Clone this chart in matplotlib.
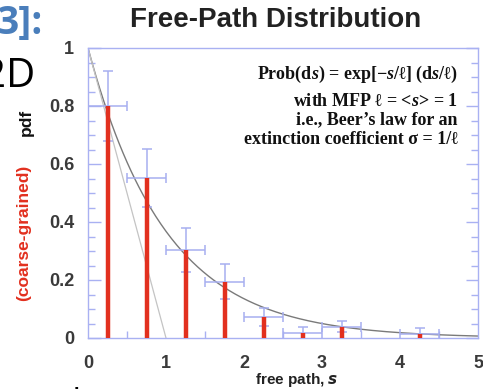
import numpy as np
import matplotlib
matplotlib.use("Agg")
import matplotlib.pyplot as plt
from matplotlib.ticker import MultipleLocator

# ---- data ----
bin_centers = [0.25, 0.75, 1.25, 1.75, 2.25, 2.75, 3.25, 4.25]
pdf_values = [0.80, 0.553, 0.303, 0.194, 0.073, 0.018, 0.039, 0.015]
pdf_errors = [0.12, 0.10, 0.075, 0.06, 0.03, 0.02, 0.02, 0.02]
bin_half_width = 0.25
mfp = 1.0

x_ticks = [0, 1, 2, 3, 4, 5]
x_tick_labels = ["0", "1", "2", "3", "4", "5"]
y_ticks = [0, 0.2, 0.4, 0.6, 0.8, 1.0]
y_tick_labels = ["0", "0.2", "0.4", "0.6", "0.8", "1"]

title = "Free-Path Distribution"
xlabel = "free path, $\\boldsymbol{s}$"

plt.rcParams["mathtext.fontset"] = "custom"
plt.rcParams["mathtext.it"] = "Liberation Serif:italic:bold"
plt.rcParams["mathtext.bf"] = "Liberation Sans:italic:bold"

W, H = 483, 389
fig = plt.figure(figsize=(W / 100, H / 100), dpi=100)
fig.patch.set_facecolor("white")

ax = fig.add_axes([88 / W, 1 - 338 / H, (478 - 88) / W, (338 - 48) / H])
spine_col = "#a9b1f2"
for sp in ["bottom", "left", "right", "top"]:
    ax.spines[sp].set_color(spine_col)
    ax.spines[sp].set_linewidth(1.0)

s = np.linspace(0, 5, 300)
ax.plot(s, np.exp(-s / mfp), color="#7a7a7a", lw=1.0, zorder=2)
ax.plot([0, mfp], [1, 0], color="#c4c4c4", lw=0.9, zorder=2)

ax.errorbar(bin_centers, pdf_values, xerr=bin_half_width, yerr=pdf_errors,
            fmt="none", ecolor="#a7aff0", elinewidth=1.1, capsize=3.5,
            capthick=1.1, zorder=3)
ax.vlines(bin_centers, 0, pdf_values, colors="#e2301f", lw=3.2, zorder=4)

ax.set_xlim(0, 5)
ax.set_ylim(0, 1)
ax.set_xticks(x_ticks)
ax.set_xticklabels(x_tick_labels)
ax.set_yticks(y_ticks)
ax.set_yticklabels(y_tick_labels)
ax.xaxis.set_minor_locator(MultipleLocator(0.5))
ax.yaxis.set_minor_locator(MultipleLocator(0.05))
ax.tick_params(axis="both", which="both", direction="in", color=spine_col,
               labelcolor="#3a3a3a", labelsize=13)
ax.tick_params(axis="x", which="major", length=0, pad=12)
ax.tick_params(axis="x", which="minor", length=5, width=1)
ax.tick_params(axis="y", which="major", length=9, width=1, pad=10, right=True)
ax.tick_params(axis="y", which="minor", length=5, width=1, right=True)
for lab in ax.get_xticklabels() + ax.get_yticklabels():
    lab.set_family(["Liberation Sans", "DejaVu Sans"])
    lab.set_fontweight("bold")

fig.text(276 / W, 1 - 20 / H, title, ha="center", va="center", fontsize=20,
         fontweight="bold", family=["Liberation Sans", "DejaVu Sans"],
         color="#222222")

ax.set_xlabel(xlabel, fontsize=11, fontweight="bold",
              family=["Liberation Sans", "DejaVu Sans"], color="#222222")
ax.xaxis.set_label_coords((297 - 88) / (478 - 88), -(371 - 338) / (338 - 48))

fig.text(26 / W, 1 - 122 / H, "pdf", rotation=90, ha="center", va="center",
         fontsize=12.5, fontweight="bold", family=["Liberation Sans", "DejaVu Sans"],
         color="#111111")
fig.text(24 / W, 1 - 233 / H, "(coarse-grained)", rotation=90, ha="center",
         va="center", fontsize=12.5, fontweight="bold",
         family=["Liberation Sans", "DejaVu Sans"], color="#e2301f")

serif = ["Liberation Serif", "DejaVu Serif"]
ann_x = 458 / W
ann = [
    (74, "Prob(d$\\it{s}$) = exp[\u2212$\\it{s}$/\u2113] (d$\\it{s}$/\u2113)"),
    (101, "with MFP \u2113 = <$\\it{s}$> = 1"),
    (120, "i.e., Beer\u2019s law for an"),
    (139, "extinction coefficient \u03c3 = 1/\u2113"),
]
for yy, txt in ann:
    fig.text(ann_x, 1 - yy / H, txt, ha="right", va="center", fontsize=13,
             fontweight="bold", family=serif, color="#111111")

# slide fragments around the cropped figure
fig.text(-3 / W, 1 - 24 / H, "3]:", ha="left", va="center", fontsize=28,
         fontweight="bold", family=["Open Sans", "DejaVu Sans"], color="#4a7ebb")
fig.text(-17 / W, 1 - 77 / H, "2D", ha="left", va="center", fontsize=29,
         family=["Open Sans", "DejaVu Sans"], color="#000000")
fig.text(-8 / W, 1 - 412 / H, "oooolo", ha="left", va="baseline", fontsize=24,
         family=["Open Sans", "DejaVu Sans"], color="#000000")

fig.savefig("out.png", dpi=100, facecolor="white")
